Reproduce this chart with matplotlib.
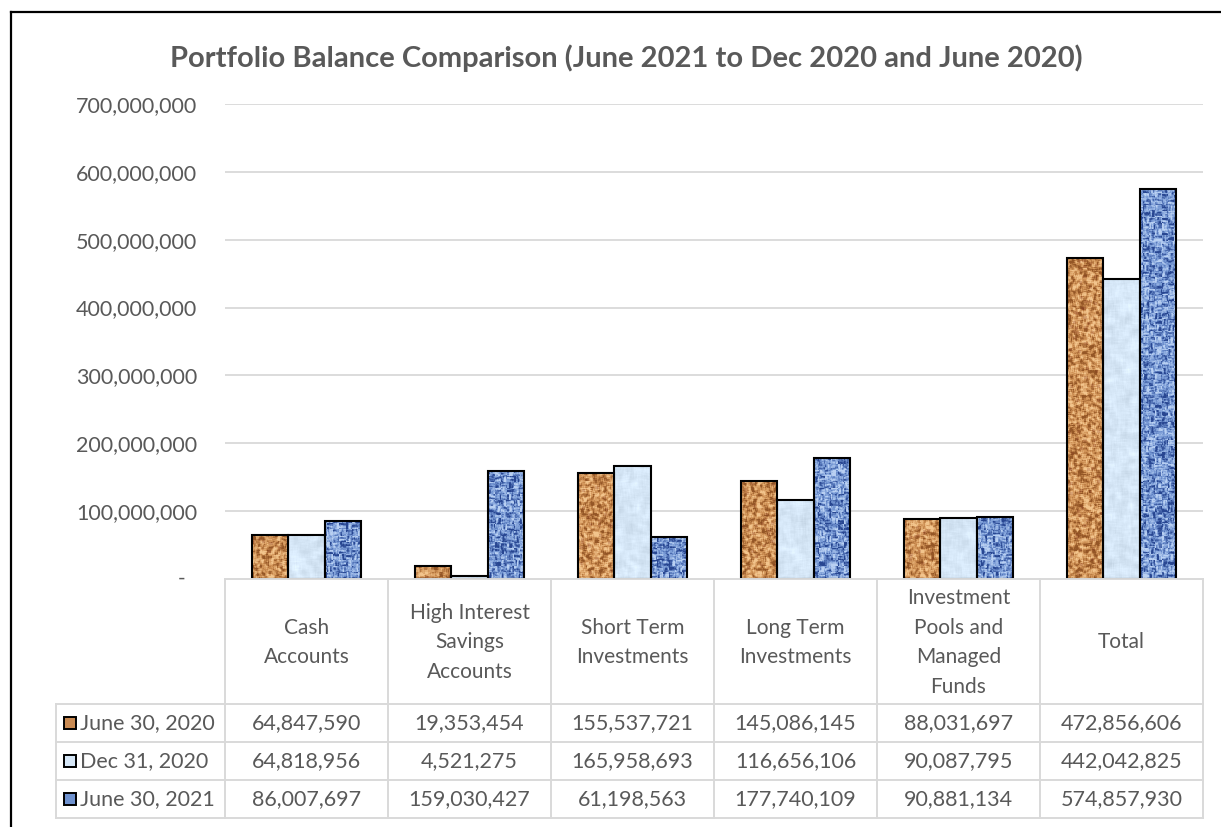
import numpy as np
import matplotlib
matplotlib.use("Agg")
import matplotlib.pyplot as plt
from matplotlib.patches import Rectangle
from matplotlib.lines import Line2D
from matplotlib.ticker import FixedLocator, FuncFormatter

categories = ["Cash\nAccounts", "High Interest\nSavings\nAccounts", "Short Term\nInvestments",
              "Long Term\nInvestments", "Investment\nPools and\nManaged\nFunds", "Total"]
series_names = ["June 30, 2020", "Dec 31, 2020", "June 30, 2021"]
june_2020 = [64847590, 19353454, 155537721, 145086145, 88031697, 472856606]
dec_2020 = [64818956, 4521275, 165958693, 116656106, 90087795, 442042825]
june_2021 = [86007697, 159030427, 61198563, 177740109, 90881134, 574857930]
y_ticks = [100e6, 200e6, 300e6, 400e6, 500e6, 600e6, 700e6]

W, H = 1221, 827
TXT = "#595959"
GRID = "#d9d9d9"
FONT = "Lato"
plt.rcParams["font.family"] = [FONT, "DejaVu Sans"]


def fx(x):
    return x / W


def fy(y):
    return 1 - y / H


def smooth(a, k):
    # cheap box blur, done along both axes
    out = a.copy()
    for ax_ in (0, 1):
        acc = np.zeros_like(out)
        for s in range(-k, k + 1):
            acc += np.roll(out, s, axis=ax_)
        out = acc / (2 * k + 1)
    return out


def make_texture(kind, shape, rng):
    h, w = shape
    if kind == "cork":
        n = smooth(rng.normal(size=(h, w)), 1) + 0.6 * smooth(rng.normal(size=(h, w)), 2)
        n = n / n.std()
        base = np.array([208, 146, 86]) / 255
        light = np.array([242, 196, 140]) / 255
        dark = np.array([148, 86, 38]) / 255
        t = np.clip(n * 0.6, -1, 1)[..., None]
        img = np.where(t > 0, base + (light - base) * t, base + (base - dark) * t)
        specks = smooth((rng.random((h, w)) > 0.992).astype(float), 1) * 2.5
        specks = np.clip(specks, 0, 1)[..., None]
        img = img * (1 - 0.7 * specks) + np.array([115, 35, 20]) / 255 * 0.7 * specks
    elif kind == "ice":
        n = smooth(rng.normal(size=(h, w)), 3)
        n = n / n.std()
        base = np.array([214, 231, 247]) / 255
        img = base + 0.02 * n[..., None]
    else:
        # woven look: alternate horizontal and vertical streak cells
        k = 3
        nh = smooth(rng.normal(size=(h, w)), 0)
        nh = sum(np.roll(nh, s, 1) for s in range(-k, k + 1)) / (2 * k + 1)
        nh = (nh + np.roll(nh, 1, 0)) / 2
        nv = rng.normal(size=(h, w))
        nv = sum(np.roll(nv, s, 0) for s in range(-k, k + 1)) / (2 * k + 1)
        nv = (nv + np.roll(nv, 1, 1)) / 2
        yy, xx = np.mgrid[0:h, 0:w]
        cell = ((yy // 6 + xx // 6) % 2).astype(bool)
        n = np.where(cell, nh, nv)
        n = n / n.std()
        base = np.array([118, 152, 212]) / 255
        light = np.array([185, 208, 242]) / 255
        dark = np.array([40, 70, 145]) / 255
        t = np.clip(n * 0.6, -1, 1)[..., None]
        img = np.where(t > 0, base + (light - base) * t, base + (base - dark) * t)
    return np.clip(img, 0, 1)


fig = plt.figure(figsize=(W / 100, H / 100), dpi=100)

# outer frame (right and bottom edges fall outside the image)
fig.add_artist(Line2D([fx(11), fx(11)], [fy(12), 0], color="black", lw=1.6))
fig.add_artist(Line2D([fx(11), 1], [fy(12), fy(12)], color="black", lw=1.6))

ax_left, ax_right, ax_top, ax_bot = 225, 1203, 104, 579
ax = fig.add_axes([fx(ax_left), fy(ax_bot), fx(ax_right - ax_left), (ax_bot - ax_top) / H])
ax.set_xlim(-0.5, len(categories) - 0.5)
ax.set_ylim(0, 700e6)
for s in ax.spines.values():
    s.set_visible(False)
ax.set_xticks([])
ax.yaxis.set_major_locator(FixedLocator(y_ticks))
ax.yaxis.set_major_formatter(FuncFormatter(lambda v, p: f"{v:,.0f}"))
ax.tick_params(axis="y", length=0, pad=20, labelsize=15.5, labelcolor=TXT)
ax.yaxis.grid(True, color=GRID, lw=1.3)
ax.set_axisbelow(True)
ax.text(-40 / (ax_right - ax_left), 0, "-", transform=ax.transAxes, ha="right", va="center",
        fontsize=15, color=TXT)

rng = np.random.default_rng(7)
tex_shape = (ax_bot - ax_top, ax_right - ax_left)
textures = [make_texture(k, tex_shape, rng) for k in ("cork", "ice", "weave")]
swatch_colors = ["#c98a52", "#d6e7f7", "#6f92cf"]

x = np.arange(len(categories))
bw = 0.224
all_series = [june_2020, dec_2020, june_2021]
for i, vals in enumerate(all_series):
    bars = ax.bar(x + (i - 1) * bw, vals, bw, facecolor="none", edgecolor="black", lw=1.5, zorder=4)
    for b in bars:
        im = ax.imshow(textures[i], extent=[-0.5, len(categories) - 0.5, 0, 700e6],
                       aspect="auto", interpolation="nearest", zorder=3)
        im.set_clip_path(b)
ax.set_xlim(-0.5, len(categories) - 0.5)
ax.set_ylim(0, 700e6)

fig.text(fx(626), fy(58), "Portfolio Balance Comparison (June 2021 to Dec 2020 and June 2020)",
         ha="center", va="center", fontsize=21, fontweight="bold", color=TXT)

# data table under the plot
col_edges = np.linspace(ax_left, ax_right, len(categories) + 1)
row_edges = [579, 704, 742, 780, 818]
leg_left = 56
lw_t = 1.4


def hline(y, x0, x1):
    fig.add_artist(Line2D([fx(x0), fx(x1)], [fy(y), fy(y)], color=GRID, lw=lw_t))


def vline(xp, y0, y1):
    fig.add_artist(Line2D([fx(xp), fx(xp)], [fy(y0), fy(y1)], color=GRID, lw=lw_t))


hline(row_edges[0], ax_left, ax_right)
for y in row_edges[1:]:
    hline(y, leg_left, ax_right)
vline(leg_left, row_edges[1], row_edges[-1])
for xe in col_edges:
    vline(xe, row_edges[0], row_edges[-1])

centers = (col_edges[:-1] + col_edges[1:]) / 2
for c, name in zip(centers, categories):
    fig.text(fx(c), fy((row_edges[0] + row_edges[1]) / 2 + 1), name, ha="center", va="center",
             fontsize=15, color=TXT, linespacing=1.6)

for r, (sname, vals) in enumerate(zip(series_names, all_series)):
    ymid = (row_edges[r + 1] + row_edges[r + 2]) / 2
    sw = Rectangle((fx(64), fy(ymid + 6)), fx(12), 12 / H, transform=fig.transFigure,
                   facecolor=swatch_colors[r], edgecolor="black", lw=1.4)
    fig.add_artist(sw)
    fig.text(fx(80), fy(ymid), sname, ha="left", va="center", fontsize=15.5, color=TXT)
    for c, v in zip(centers, vals):
        fig.text(fx(c), fy(ymid), f"{v:,}", ha="center", va="center", fontsize=15.5, color=TXT)

fig.savefig("out.png", dpi=100)
